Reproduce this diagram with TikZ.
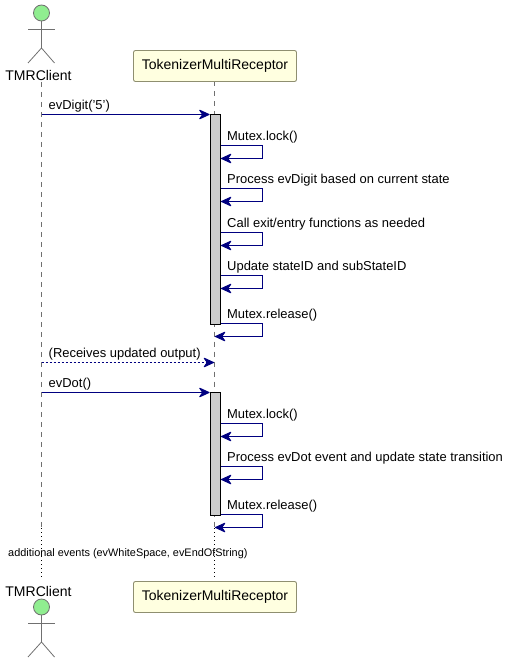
\documentclass[tikz,border=0pt]{standalone}
\usepackage{fontspec}
\setmainfont{Liberation Sans}
\usetikzlibrary{arrows.meta}
\definecolor{lifegray}{HTML}{707070}
\definecolor{boxfill}{HTML}{FFFFE0}
\definecolor{boxline}{HTML}{8F8F70}
\definecolor{headfill}{HTML}{90EE90}
\definecolor{actfill}{HTML}{CCCCCC}
\definecolor{msgnavy}{HTML}{000080}
\tikzset{
  x=1pt,y=-1pt,
  lifedash/.style={draw=lifegray,line width=0.8pt,dash pattern=on 5pt off 5pt},
  lifedot/.style={draw=black,line width=0.8pt,dash pattern=on 1pt off 3pt},
  partbox/.style={draw=boxline,fill=boxfill,rounded corners=2pt,line width=0.9pt,minimum width=163pt,minimum height=31pt,inner sep=0pt,font=\fontsize{14}{16}\selectfont},
  actorlabel/.style={inner sep=0pt,font=\fontsize{14}{16}\selectfont},
  actorline/.style={draw=lifegray,line width=0.8pt},
  actorhead/.style={draw=lifegray,fill=headfill,line width=0.8pt,circle,minimum size=16pt,inner sep=0pt},
  actbar/.style={draw=black,fill=actfill,line width=1pt,minimum width=10pt,inner sep=0pt,outer sep=0pt},
  msg/.style={draw=msgnavy,line width=1pt,-{Stealth[length=12pt,width=11pt,inset=4pt,round=false]}},
  msgdash/.style={msg,dash pattern=on 2pt off 2pt},
  msgtext/.style={anchor=base west,inner sep=0pt,font=\fontsize{12.95}{15}\selectfont},
  notetext/.style={anchor=base west,inner sep=0pt,font=\fontsize{10.9}{13}\selectfont}
}
\newcommand{\selfmsg}[4]{%
  \coordinate (#1s) at (220.5,#2);
  \coordinate (#1e) at (#4,#2+13);
  \draw[msg] (#1s) -- (262.5,#2) -- (262.5,#2+13) -- (#1e);
  \node[msgtext] (#1t) at (227,#2-4.8) {#3};
}
\begin{document}
\begin{tikzpicture}
\useasboundingbox (0,0) rectangle (509,663);
\coordinate (cA) at (41.5,82);
\coordinate (cAm) at (41.5,528);
\coordinate (cAb) at (41.5,578);
\coordinate (cB) at (214.5,81.5);
\coordinate (cBm) at (214.5,528);
\coordinate (cBb) at (214.5,578);
\draw[lifedash] (cA) -- (cAm);
\draw[lifedash] (cB) -- (cBm);
\draw[lifedot] (cAm) -- (cAb);
\draw[lifedot] (cBm) -- (cBb);
\node[partbox] (rtop) at (215,66) {TokenizerMultiReceptor};
\node[partbox] (rbot) at (215,597) {TokenizerMultiReceptor};
\node[actorhead] (h1) at (41.5,13) {};
\coordinate (b1) at (41.5,48);
\coordinate (a1l) at (28,29);
\coordinate (a1r) at (54.5,29);
\coordinate (l1l) at (28,63);
\coordinate (l1r) at (54.5,63);
\draw[actorline] (h1.south) -- (b1);
\draw[actorline] (a1l) -- (a1r);
\draw[actorline] (l1l) -- (b1) -- (l1r);
\node[actorlabel] (t1) at (38.5,75) {TMRClient};
\node[actorlabel] (t2) at (38.5,591) {TMRClient};
\node[actorhead] (h2) at (41.5,607) {};
\coordinate (b2) at (41.5,642);
\coordinate (a2l) at (28,623);
\coordinate (a2r) at (54.5,623);
\coordinate (l2l) at (28,657);
\coordinate (l2r) at (54.5,657);
\draw[actorline] (h2.south) -- (b2);
\draw[actorline] (a2l) -- (a2r);
\draw[actorline] (l2l) -- (b2) -- (l2r);
\node[actbar,minimum height=210pt] (act1) at (215.5,219.5) {};
\node[actbar,minimum height=123pt] (act2) at (215.5,454) {};
\coordinate (m1s) at (41.5,114.5);
\draw[msg,shorten >=1pt] (m1s) -- (act1.north west);
\node[msgtext] (m1t) at (48.5,109.2) {evDigit('5')};
\selfmsg{s1}{145.5}{Mutex.lock()}{221}
\selfmsg{s2}{188.5}{Process evDigit based on current state}{221}
\selfmsg{s3}{232.5}{Call exit/entry functions as needed}{221}
\selfmsg{s4}{275.5}{Update stateID and subStateID}{221}
\selfmsg{s5}{323.5}{Mutex.release()}{215}
\coordinate (m2s) at (41.5,362.5);
\coordinate (m2e) at (214,362.5);
\draw[msgdash] (m2s) -- (m2e);
\node[msgtext] (m2t) at (48.5,357.7) {(Receives updated output)};
\coordinate (m3s) at (41.5,392.5);
\draw[msg,shorten >=1pt] (m3s) -- (act2.north west);
\node[msgtext] (m3t) at (48.5,387.7) {evDot()};
\selfmsg{s6}{423.5}{Mutex.lock()}{221}
\selfmsg{s7}{466.5}{Process evDot event and update state transition}{221}
\selfmsg{s8}{514.5}{Mutex.release()}{215}
\node[notetext] (note) at (8,556) {additional events (evWhiteSpace, evEndOfString)};
\end{tikzpicture}
\end{document}
